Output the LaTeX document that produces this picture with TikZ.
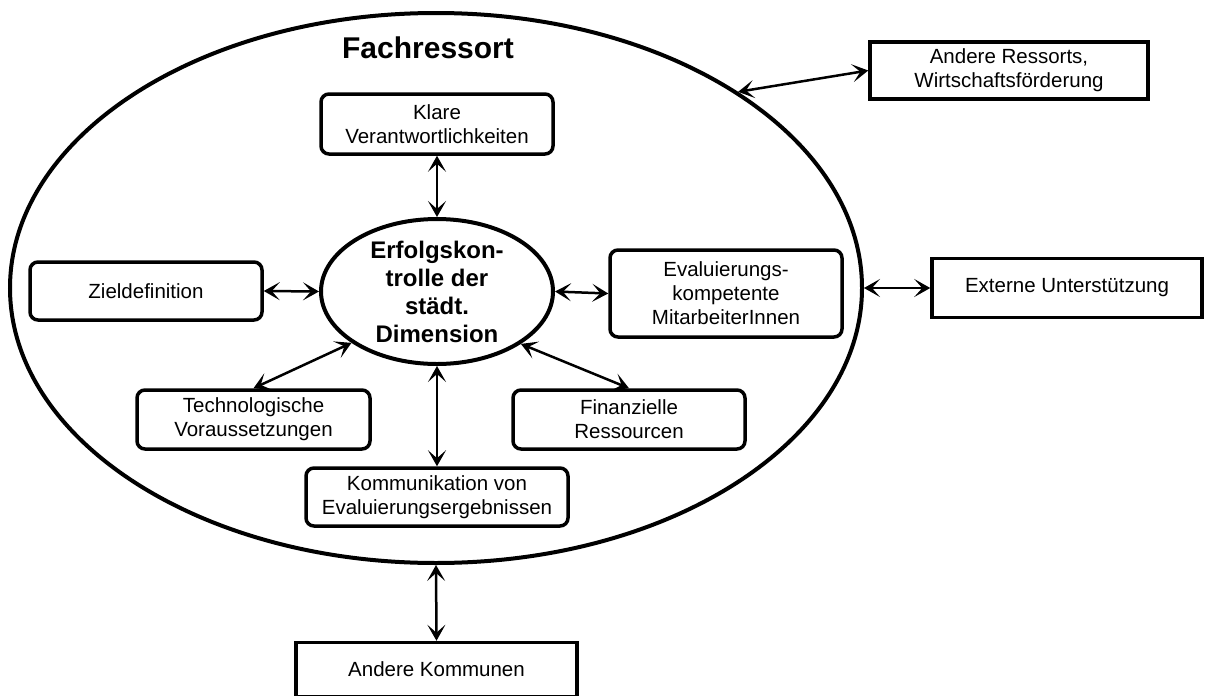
\documentclass[tikz,border=0pt]{standalone}
\usepackage{fontspec}
\setmainfont{Liberation Sans}
\usetikzlibrary{shapes.geometric,arrows.meta}
\begin{document}
\begin{tikzpicture}[x=1pt,y=-1pt,
  rbox/.style={draw,line width=3.5pt,rounded corners=8pt,inner sep=0pt,align=center,
    font=\fontsize{20.5}{24}\selectfont},
  sbox/.style={draw,line width=3.5pt,inner sep=0pt,align=center,
    font=\fontsize{20.5}{24}\selectfont},
  conn/.style={line width=2.5pt,{Stealth[length=16pt,width=18pt,inset=8pt]}-{Stealth[length=16pt,width=18pt,inset=8pt]}}
]
\useasboundingbox (0,0) rectangle (1205,696);

% outer ellipse
\node[draw,ellipse,line width=4pt,minimum width=852pt,minimum height=550pt,inner sep=0pt] (big) at (436,288) {};
\node[anchor=base,font=\fontsize{30}{36}\selectfont\bfseries] (title) at (428,58) {Fachressort};

% centre
\node[draw,ellipse,line width=4pt,minimum width=232pt,minimum height=145pt,inner sep=0pt,
  align=center,font=\fontsize{24}{28}\selectfont\bfseries] (center) at (437,291.5)
  {Erfolgskon-\\trolle der\\städt.\\Dimension};

% inner boxes
\node[rbox,minimum width=232pt,minimum height=60pt] (klare) at (437,124) {Klare\\Verantwortlichkeiten};
\node[rbox,minimum width=232pt,minimum height=58pt] (ziel) at (146,291) {Zieldefinition};
\node[rbox,minimum width=232pt,minimum height=87pt] (eval) at (726,293.5) {Evaluierungs-\\kompetente\\MitarbeiterInnen};
\node[rbox,minimum width=233pt,minimum height=59pt] (tech) at (253.5,419.5) {Technologische\\Voraussetzungen};
\node[rbox,minimum width=232pt,minimum height=59pt] (fin) at (629,419.5) {Finanzielle\\Ressourcen};
\node[rbox,minimum width=262pt,minimum height=58pt] (komm) at (437,497) {Kommunikation von\\Evaluierungsergebnissen};

% outer boxes
\node[sbox,minimum width=278pt,minimum height=57pt] (ressorts) at (1009,70.5) {Andere Ressorts,\\Wirtschaftsförderung};
\node[sbox,minimum width=270pt,minimum height=59pt] (extern) at (1067,288) {Externe Unterstützung};
\node[sbox,minimum width=281pt,minimum height=54pt] (kommunen) at (436.5,669.5) {Andere Kommunen};

% connectors
\draw[conn] (klare.south) -- (center.north);
\draw[conn] (ziel.east) -- (center.west);
\draw[conn] (center.east) -- (eval.west);
\draw[conn] (center.211) -- (tech.north);
\draw[conn] (center.328) -- (fin.north);
\draw[conn] (center.south) -- (komm.north);
\draw[conn] (big.33) -- (ressorts.west);
\draw[conn] (big.east) -- (extern.west);
\draw[conn] (big.south) -- (kommunen.north);
\end{tikzpicture}
\end{document}
